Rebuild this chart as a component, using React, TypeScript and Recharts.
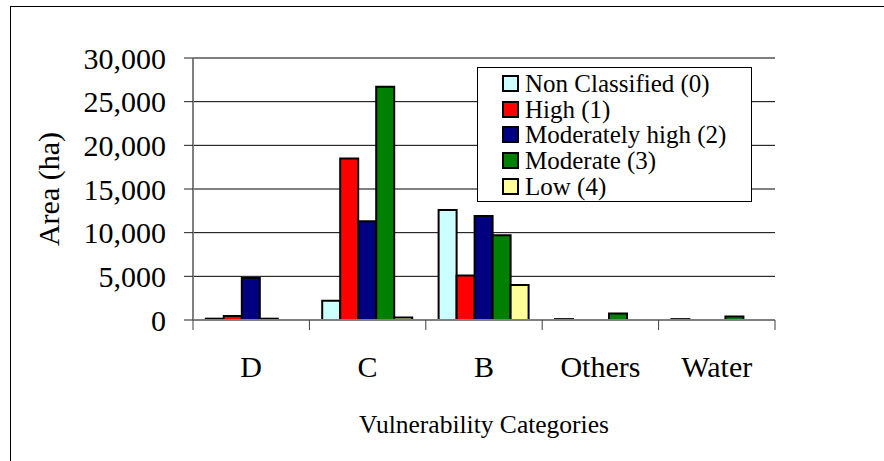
import { BarChart, Bar, XAxis, YAxis, CartesianGrid, Legend } from 'recharts'

// vulnerability categories (x axis)
const categories = ['D', 'C', 'B', 'Others', 'Water']

// area (ha) per class
const nonClassified = [150, 2200, 12600, 100, 100]
const high = [450, 18500, 5100, 0, 0]
const moderatelyHigh = [4800, 11300, 11900, 0, 0]
const moderate = [150, 26700, 9700, 750, 400]
const low = [0, 300, 4000, 0, 0]

const yTicks = [0, 5000, 10000, 15000, 20000, 25000, 30000]

const series = [
	{ key: 'nc', name: 'Non Classified (0)', color: '#CCFFFF', values: nonClassified },
	{ key: 'high', name: 'High (1)', color: '#FF0000', values: high },
	{ key: 'mh', name: 'Moderately high (2)', color: '#000080', values: moderatelyHigh },
	{ key: 'mod', name: 'Moderate (3)', color: '#008000', values: moderate },
	{ key: 'low', name: 'Low (4)', color: '#FFFF99', values: low },
]

const data = categories.map((cat, i) => {
	const row: any = { cat }
	series.forEach((s) => (row[s.key] = s.values[i]))
	return row
})

const W = 884
const H = 461
const LEFT = 193
const RIGHT = 109
const TOP = 58
const BOTTOM = 141
const BAND = (W - LEFT - RIGHT) / categories.length
const FONT = '"Liberation Serif", "Times New Roman", serif'

function CategoryTick(props: any) {
	const { x, y, payload, index } = props
	const tickColor = '#404040'
	return (
		<g>
			<line x1={x - BAND / 2} x2={x - BAND / 2} y1={y} y2={y + 10} stroke={tickColor} />
			{index === categories.length - 1 && (
				<line x1={x + BAND / 2} x2={x + BAND / 2} y1={y} y2={y + 10} stroke={tickColor} />
			)}
			<text x={x} y={y + 57} textAnchor="middle" fontSize={30} fontFamily={FONT} fill="#000">
				{payload.value}
			</text>
		</g>
	)
}

function LegendBox() {
	return (
		<div
			style={{
				border: '1px solid #000',
				background: '#fff',
				width: 275,
				height: 135,
				boxSizing: 'border-box',
				paddingTop: 3,
				paddingLeft: 24,
				fontFamily: FONT,
				fontSize: 25,
				color: '#000',
			}}
		>
			{series.map((s) => (
				<div key={s.key} style={{ display: 'flex', alignItems: 'center', height: 25.6 }}>
					<span
						style={{
							display: 'inline-block',
							width: 13,
							height: 13,
							border: '2px solid #000',
							background: s.color,
							marginRight: 6,
						}}
					/>
					<span style={{ lineHeight: '25px' }}>{s.name}</span>
				</div>
			))}
		</div>
	)
}

export default function App() {
	return (
		<div style={{ position: 'absolute', left: 0, top: 0, width: W, height: H, overflow: 'hidden', background: '#fff' }}>
			<div
				style={{
					position: 'absolute',
					left: 10,
					top: 6,
					width: W - 10,
					height: H - 6,
					borderTop: '1.5px solid #000',
					borderLeft: '1.5px solid #000',
					boxSizing: 'border-box',
				}}
			/>
			<BarChart
				width={W}
				height={H}
				data={data}
				margin={{ top: TOP, right: RIGHT, left: 0, bottom: 0 }}
				barCategoryGap="11%"
				barGap={0}
				style={{ position: 'absolute', left: 0, top: 0 }}
			>
				<CartesianGrid vertical={false} stroke="#000" strokeWidth={1} />
				<XAxis
					dataKey="cat"
					height={BOTTOM}
					axisLine={{ stroke: '#808080', strokeWidth: 2 }}
					tickLine={false}
					tickSize={0}
					tickMargin={0}
					interval={0}
					tick={<CategoryTick />}
					label={{
						content: (p: any) => (
							<text
								x={p.viewBox.x + p.viewBox.width / 2}
								y={433}
								textAnchor="middle"
								fontSize={25.5}
								fontFamily={FONT}
								fill="#000"
							>
								Vulnerability Categories
							</text>
						),
					}}
				/>
				<XAxis xAxisId="top" dataKey="cat" orientation="top" height={0} tick={false} tickLine={false} axisLine={{ stroke: '#808080', strokeWidth: 2 }} />
				<YAxis
					width={LEFT}
					domain={[0, 30000]}
					ticks={yTicks}
					interval={0}
					axisLine={{ stroke: '#808080', strokeWidth: 2 }}
					tickLine={{ stroke: '#202020' }}
					tickSize={9}
					tickMargin={18}
					tickFormatter={(v: number) => v.toLocaleString('en-US')}
					tick={{ fontSize: 30, fontFamily: FONT, fill: '#000' }}
					label={{
						content: (p: any) => {
							const cx = 48
							const cy = p.viewBox.y + p.viewBox.height / 2
							return (
								<text
									x={cx}
									y={cy}
									transform={`rotate(-90, ${cx}, ${cy})`}
									textAnchor="middle"
									dominantBaseline="central"
									fontSize={30}
									fontFamily={FONT}
									fill="#000"
								>
									Area (ha)
								</text>
							)
						},
					}}
				/>
				<YAxis yAxisId="right" orientation="right" width={0} tick={false} tickLine={false} axisLine={{ stroke: '#808080', strokeWidth: 2 }} />
				<Legend
					layout="vertical"
					align="center"
					verticalAlign="middle"
					content={<LegendBox />}
					wrapperStyle={{ position: 'absolute', left: 477, top: 67, width: 275, height: 135 }}
				/>
				{series.map((s) => (
					<Bar
						key={s.key}
						dataKey={s.key}
						name={s.name}
						fill={s.color}
						stroke="#000"
						strokeWidth={2}
						isAnimationActive={false}
					/>
				))}
			</BarChart>
		</div>
	)
}
